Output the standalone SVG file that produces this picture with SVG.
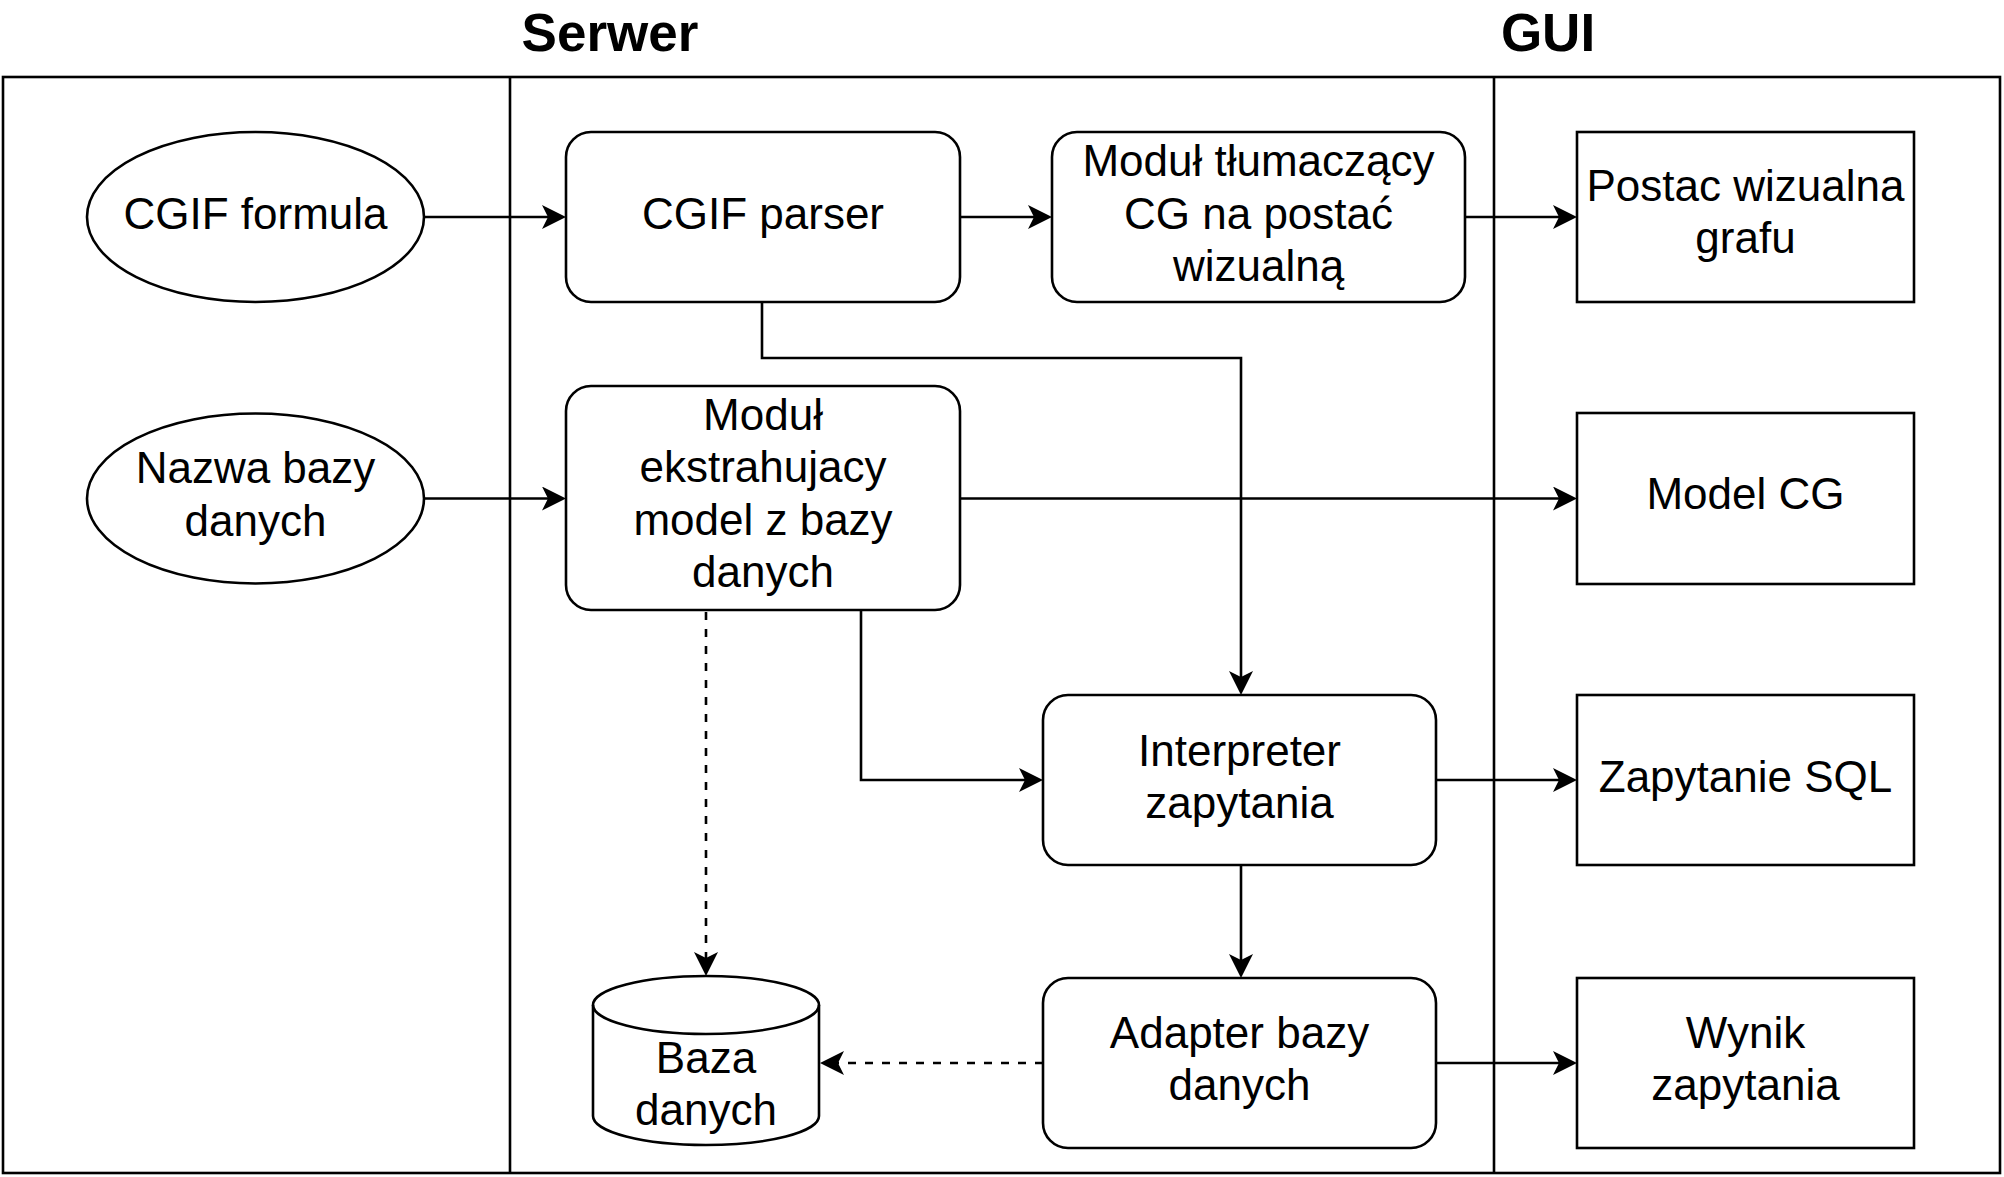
<svg xmlns="http://www.w3.org/2000/svg" width="2004" height="1177" viewBox="0 0 2004 1177">
<style>
  .shape { fill: #ffffff; stroke: #000000; stroke-width: 2.6; }
  .frame { fill: none; stroke: #000000; stroke-width: 2.6; }
  .conn { fill: none; stroke: #000000; stroke-width: 2.6; }
  .dash { stroke-dasharray: 8 9; }
  .lbl { font-family: "Liberation Sans", Arial, Helvetica, sans-serif; font-size: 44px; fill: #000000; text-anchor: middle; }
  .title { font-family: "Liberation Sans", Arial, Helvetica, sans-serif; font-size: 53px; font-weight: bold; fill: #000000; text-anchor: middle; }
</style>
<defs>
  <marker id="arrow" viewBox="0 0 24 24" markerUnits="userSpaceOnUse" markerWidth="24" markerHeight="24" refX="6" refY="12" orient="auto">
    <path d="M0,0 L24,12 L0,24 L6,12 Z" fill="#000000"/>
  </marker>
</defs>
<rect width="2004" height="1177" fill="#ffffff"/>

<g id="pool">
  <rect class="frame" x="3" y="77" width="1997" height="1096"/>
  <line class="frame" x1="510" y1="77" x2="510" y2="1173"/>
  <line class="frame" x1="1494" y1="77" x2="1494" y2="1173"/>
  <text class="title" x="610" y="51">Serwer</text>
  <text class="title" x="1548" y="51">GUI</text>
</g>

<g id="connectors">
  <path class="conn" d="M424,217 L548,217" marker-end="url(#arrow)"/>
  <path class="conn" d="M960,217 L1034,217" marker-end="url(#arrow)"/>
  <path class="conn" d="M1465,217 L1559,217" marker-end="url(#arrow)"/>
  <path class="conn" d="M762,302 L762,358 L1241,358 L1241,677" marker-end="url(#arrow)"/>
  <path class="conn" d="M424,498.5 L548,498.5" marker-end="url(#arrow)"/>
  <path class="conn" d="M960,498.5 L1559,498.5" marker-end="url(#arrow)"/>
  <path class="conn dash" d="M706,612 L706,958" marker-end="url(#arrow)"/>
  <path class="conn" d="M861,610 L861,780 L1025,780" marker-end="url(#arrow)"/>
  <path class="conn" d="M1436,780 L1559,780" marker-end="url(#arrow)"/>
  <path class="conn" d="M1241,865 L1241,960" marker-end="url(#arrow)"/>
  <path class="conn dash" d="M1043,1063 L838,1063" marker-end="url(#arrow)"/>
  <path class="conn" d="M1436,1063 L1559,1063" marker-end="url(#arrow)"/>
</g>

<g id="cgif-formula">
  <ellipse class="shape" cx="255.5" cy="217" rx="168.5" ry="85"/>
  <text class="lbl" x="255.5" y="229">CGIF formula</text>
</g>

<g id="nazwa-bazy">
  <ellipse class="shape" cx="255.5" cy="498.5" rx="168.5" ry="85"/>
  <text class="lbl" x="255.5" y="483">Nazwa bazy</text>
  <text class="lbl" x="255.5" y="536">danych</text>
</g>

<g id="cgif-parser">
  <rect class="shape" x="566" y="132" width="394" height="170" rx="25" ry="25"/>
  <text class="lbl" x="763" y="229">CGIF parser</text>
</g>

<g id="modul-tlumaczacy">
  <rect class="shape" x="1052" y="132" width="413" height="170" rx="25" ry="25"/>
  <text class="lbl" x="1258.5" y="176">Moduł tłumaczący</text>
  <text class="lbl" x="1258.5" y="228.5">CG na postać</text>
  <text class="lbl" x="1258.5" y="281">wizualną</text>
</g>

<g id="postac-wizualna">
  <rect class="shape" x="1577" y="132" width="337" height="170"/>
  <text class="lbl" x="1745.5" y="201">Postac wizualna</text>
  <text class="lbl" x="1745.5" y="253">grafu</text>
</g>

<g id="modul-ekstrahujacy">
  <rect class="shape" x="566" y="386" width="394" height="224" rx="25" ry="25"/>
  <text class="lbl" x="763" y="430">Moduł</text>
  <text class="lbl" x="763" y="482">ekstrahujacy</text>
  <text class="lbl" x="763" y="535">model z bazy</text>
  <text class="lbl" x="763" y="587">danych</text>
</g>

<g id="model-cg">
  <rect class="shape" x="1577" y="413" width="337" height="171"/>
  <text class="lbl" x="1745.5" y="509">Model CG</text>
</g>

<g id="interpreter">
  <rect class="shape" x="1043" y="695" width="393" height="170" rx="25" ry="25"/>
  <text class="lbl" x="1239.5" y="766">Interpreter</text>
  <text class="lbl" x="1239.5" y="818">zapytania</text>
</g>

<g id="zapytanie-sql">
  <rect class="shape" x="1577" y="695" width="337" height="170"/>
  <text class="lbl" x="1745.5" y="792">Zapytanie SQL</text>
</g>

<g id="adapter">
  <rect class="shape" x="1043" y="978" width="393" height="170" rx="25" ry="25"/>
  <text class="lbl" x="1239.5" y="1048">Adapter bazy</text>
  <text class="lbl" x="1239.5" y="1100">danych</text>
</g>

<g id="wynik">
  <rect class="shape" x="1577" y="978" width="337" height="170"/>
  <text class="lbl" x="1745.5" y="1048">Wynik</text>
  <text class="lbl" x="1745.5" y="1100">zapytania</text>
</g>

<g id="baza-danych">
  <path class="shape" d="M593,1005 A113,29 0 0 1 819,1005 L819,1116 A113,29 0 0 1 593,1116 Z"/>
  <path class="conn" d="M593,1005 A113,29 0 0 0 819,1005"/>
  <text class="lbl" x="706" y="1073">Baza</text>
  <text class="lbl" x="706" y="1125">danych</text>
</g>
</svg>
